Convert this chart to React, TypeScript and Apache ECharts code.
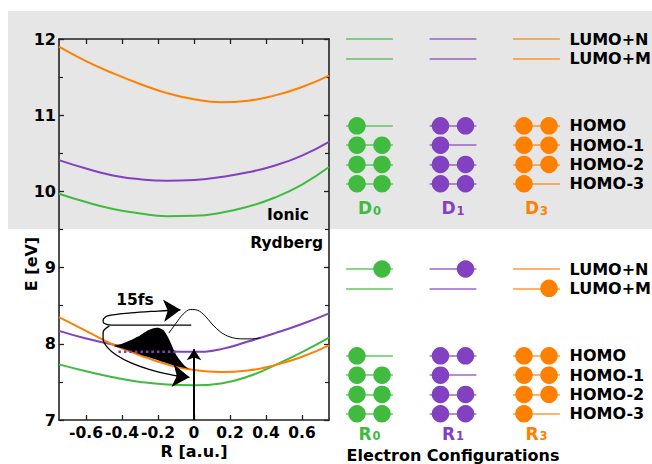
import React, { useEffect, useRef } from 'react';
import * as echarts from 'echarts';

// ---------- data: potential energy curves ----------
const rGrid = [-0.75, -0.6, -0.45, -0.3, -0.15, 0, 0.15, 0.3, 0.45, 0.6, 0.75];
const ionicD0 = [9.97, 9.86, 9.77, 9.71, 9.675, 9.68, 9.72, 9.8, 9.92, 10.09, 10.32];
const ionicD1 = [10.41, 10.3, 10.21, 10.16, 10.14, 10.15, 10.19, 10.25, 10.34, 10.47, 10.65];
const ionicD3 = [11.9, 11.71, 11.55, 11.41, 11.29, 11.21, 11.17, 11.19, 11.26, 11.37, 11.52];
const rydR0 = [7.73, 7.64, 7.56, 7.5, 7.465, 7.455, 7.48, 7.57, 7.72, 7.89, 8.08];
const rydR1 = [8.17, 8.07, 7.99, 7.93, 7.9, 7.895, 7.93, 8.03, 8.14, 8.26, 8.4];
const rydR3 = [8.35, 8.17, 7.99, 7.85, 7.73, 7.655, 7.63, 7.65, 7.72, 7.83, 7.98];

// wave packet (filled) and its continuation
const packetFill = [
  [-0.445, 7.97], [-0.4, 8.0], [-0.35, 8.05], [-0.3, 8.11], [-0.26, 8.17], [-0.23, 8.2],
  [-0.2, 8.21], [-0.17, 8.18], [-0.145, 8.09], [-0.125, 7.99], [-0.105, 7.88], [-0.08, 7.79],
  [-0.055, 7.72], [-0.03, 7.675], [-0.015, 7.665], [-0.1, 7.71], [-0.2, 7.785], [-0.3, 7.86], [-0.4, 7.94],
];
const packetLine = [
  [-0.14, 8.14], [-0.1, 8.27], [-0.06, 8.39], [-0.02, 8.45], [0.02, 8.44], [0.06, 8.37],
  [0.1, 8.26], [0.15, 8.15], [0.2, 8.09], [0.26, 8.065], [0.32, 8.065], [0.37, 8.08],
];
const dottedLevel = [[-0.42, 7.895], [-0.09, 7.895]];
const loopPath = [
  [-0.015, 8.245], [-0.3, 8.245], [-0.46, 8.245], [-0.5, 8.27], [-0.505, 8.31], [-0.48, 8.365],
  [-0.35, 8.405], [-0.2, 8.43], [-0.12, 8.44],
];
const loopArrow = [[-0.14, 8.438], [-0.075, 8.446]];
const relaxPath = [
  [-0.47, 8.235], [-0.505, 8.15], [-0.505, 8.06], [-0.48, 7.95], [-0.43, 7.85], [-0.35, 7.75],
  [-0.25, 7.665], [-0.15, 7.605], [-0.09, 7.575],
];
const relaxArrow = [[-0.1, 7.578], [-0.025, 7.56]];
const exciteArrow = [[0, 7.0], [0, 7.93]];

const xTickValues = [-0.6, -0.4, -0.2, 0, 0.2, 0.4, 0.6];
const xTickLabels = ['-0.6', '-0.4', '-0.2', '0', '0.2', '0.4', '0.6'];

// ---------- data: electron configurations ----------
const levelNames = ['LUMO+N', 'LUMO+M', 'HOMO', 'HOMO-1', 'HOMO-2', 'HOMO-3'];
const levelPos = [0, 1, 4.5, 5.5, 6.5, 7.5];
const ionicStates = ['D', 'D', 'D'];
const ionicSubs = ['0', '1', '3'];
const rydStates = ['R', 'R', 'R'];
const rydSubs = ['0', '1', '3'];
const occD0 = [[0, 0], [0, 0], [1, 0], [1, 1], [1, 1], [1, 1]];
const occD1 = [[0, 0], [0, 0], [1, 1], [1, 0], [1, 1], [1, 1]];
const occD3 = [[0, 0], [0, 0], [1, 1], [1, 1], [1, 1], [1, 0]];
const occR0 = [[0, 1], [0, 0], [1, 0], [1, 1], [1, 1], [1, 1]];
const occR1 = [[0, 1], [0, 0], [1, 1], [1, 0], [1, 1], [1, 1]];
const occR3 = [[0, 0], [0, 1], [1, 1], [1, 1], [1, 1], [1, 0]];

const GREEN = '#40bb40';
const PURPLE = '#8241c1';
const ORANGE = '#ff8000';
const colColors = [GREEN, PURPLE, ORANGE];
const FONT = 'DejaVu Sans';
const INK = '#000';

function configSeries(panel: number, occs: number[][][], names: string[], subs: string[], labelLevel: number) {
  const ax = 2 + panel;
  const lineData: any[] = [];
  const eData: any[] = [];
  occs.forEach((occ, c) => {
    levelPos.forEach((lv, i) => {
      lineData.push({ coords: [[c - 0.28, lv], [c + 0.28, lv]], lineStyle: { color: colColors[c] } });
      if (occ[i][0]) eData.push({ value: [c - 0.15, lv], itemStyle: { color: colColors[c], opacity: 1 } });
      if (occ[i][1]) eData.push({ value: [c + 0.15, lv], itemStyle: { color: colColors[c], opacity: 1 } });
    });
  });
  return [
    {
      type: 'lines', coordinateSystem: 'cartesian2d', xAxisIndex: ax, yAxisIndex: ax,
      data: lineData, symbol: ['none', 'none'], silent: true,
      lineStyle: { width: 2, opacity: 0.6 }, z: 2,
    },
    {
      type: 'scatter', xAxisIndex: ax, yAxisIndex: ax, data: eData,
      symbolSize: 17.5, z: 3, silent: true, itemStyle: { opacity: 1 },
    },
    {
      type: 'scatter', xAxisIndex: ax, yAxisIndex: ax, silent: true,
      data: levelNames.map((n, i) => ({ value: [2.39, levelPos[i]], name: n })),
      symbolSize: 1, itemStyle: { color: 'rgba(0,0,0,0)', opacity: 1 },
      label: {
        show: true, position: 'right', distance: 0, formatter: '{b}',
        fontFamily: FONT, fontWeight: 'bold', fontSize: 16, color: INK,
      },
    },
    {
      type: 'scatter', xAxisIndex: ax, yAxisIndex: ax, silent: true,
      data: names.map((n, c) => ({ value: [c, labelLevel], name: n + '|' + subs[c] + '|' + c })),
      symbolSize: 1, itemStyle: { color: 'rgba(0,0,0,0)', opacity: 1 },
      label: {
        show: true, position: 'inside',
        formatter: (p: any) => {
          const [n, s, c] = p.name.split('|');
          return `{m${c}|${n}}{s${c}|${s}}`;
        },
        rich: Object.fromEntries(
          [0, 1, 2].flatMap((c) => [
            [`m${c}`, { fontFamily: FONT, fontWeight: 'bold', fontSize: 17, color: colColors[c], verticalAlign: 'bottom', lineHeight: 20 }],
            [`s${c}`, { fontFamily: FONT, fontWeight: 'bold', fontSize: 11.5, color: colColors[c], verticalAlign: 'bottom', lineHeight: 9, padding: [0, 0, 0, 1] }],
          ])
        ),
      },
    },
  ];
}

export default function App() {
  const ref = useRef<HTMLDivElement>(null);
  useEffect(() => {
    if (!ref.current) return;
    const chart = echarts.init(ref.current, null, { renderer: 'svg' });
    const frame = { show: true, onZero: false, lineStyle: { color: '#222', width: 1.6 } };
    const tick = { show: true, inside: true, length: 5, lineStyle: { color: '#222', width: 1.3 } };
    const minor = { show: true, splitNumber: 2, length: 4, lineStyle: { color: '#222', width: 1.2 } };
    const curve = (vals: number[], color: string) => ({
      type: 'line', xAxisIndex: 0, yAxisIndex: 0, smooth: 0.5, showSymbol: false, silent: true,
      data: rGrid.map((r, i) => [r, vals[i]]),
      lineStyle: { width: 2, color }, itemStyle: { color }, z: 2,
    });
    const blackLine = (data: number[][], width: number) => ({
      type: 'line', xAxisIndex: 0, yAxisIndex: 0, smooth: 0.35, showSymbol: false, silent: true,
      data, lineStyle: { width, color: '#000' }, z: 5,
    });
    const fmtX = (v: number) => {
      const i = xTickValues.findIndex((t) => Math.abs(t - v) < 1e-6);
      return i >= 0 ? xTickLabels[i] : '';
    };
    const option: any = {
      animation: false,
      backgroundColor: '#fff',
      grid: [
        { left: 59, top: 39, width: 270, height: 381 },
        { left: 327.75, top: 19.7, width: 292.25, height: 193 },
        { left: 327.75, top: 249.7, width: 292.25, height: 193 },
      ],
      xAxis: [
        {
          gridIndex: 0, type: 'value', min: -0.75, max: 0.75, position: 'bottom',
          axisLine: frame, axisTick: { ...tick, customValues: xTickValues },
          axisLabel: {
            customValues: xTickValues, formatter: fmtX, margin: 5,
            fontFamily: FONT, fontWeight: 'bold', fontSize: 15.5, color: INK,
          },
          splitLine: { show: false },
        },
        {
          gridIndex: 0, type: 'value', min: -0.75, max: 0.75, position: 'top',
          axisLine: frame, axisTick: { ...tick, customValues: xTickValues },
          axisLabel: { show: false }, splitLine: { show: false },
        },
        { gridIndex: 1, type: 'value', min: -0.5, max: 3, show: false },
        { gridIndex: 2, type: 'value', min: -0.5, max: 3, show: false },
      ],
      yAxis: [
        {
          gridIndex: 0, type: 'value', min: 7, max: 12, interval: 1, position: 'left',
          axisLine: frame, axisTick: tick, minorTick: minor,
          axisLabel: { margin: 3, fontFamily: FONT, fontWeight: 'bold', fontSize: 16, color: INK },
          splitLine: { show: false }, minorSplitLine: { show: false },
        },
        {
          gridIndex: 0, type: 'value', min: 7, max: 12, interval: 1, position: 'right',
          axisLine: frame, axisTick: tick, minorTick: minor,
          axisLabel: { show: false }, splitLine: { show: false },
        },
        { gridIndex: 1, type: 'value', min: -1, max: 9, inverse: true, show: false },
        { gridIndex: 2, type: 'value', min: -1, max: 9, inverse: true, show: false },
      ],
      graphic: [
        { type: 'rect', z: -100, silent: true, shape: { x: 8, y: 11, width: 644, height: 218 }, style: { fill: '#e6e6e6' } },
        { type: 'text', x: 31, y: 264, rotation: Math.PI / 2, style: { text: 'E [eV]', fontFamily: FONT, fontWeight: 'bold', fontSize: 16, fill: INK, align: 'center', verticalAlign: 'middle' } },
        { type: 'text', x: 194, y: 451, style: { text: 'R [a.u.]', fontFamily: FONT, fontWeight: 'bold', fontSize: 16, fill: INK, align: 'center', verticalAlign: 'middle' } },
        { type: 'text', x: 453, y: 455, style: { text: 'Electron Configurations', fontFamily: FONT, fontWeight: 'bold', fontSize: 16, fill: INK, align: 'center', verticalAlign: 'middle' } },
        { type: 'text', x: 309, y: 214.5, style: { text: 'Ionic', fontFamily: FONT, fontWeight: 'bold', fontSize: 15.5, fill: INK, align: 'right', verticalAlign: 'middle' } },
        { type: 'text', x: 323, y: 243, style: { text: 'Rydberg', fontFamily: FONT, fontWeight: 'bold', fontSize: 15.5, fill: INK, align: 'right', verticalAlign: 'middle' } },
        { type: 'text', x: 135, y: 299.5, style: { text: '15fs', fontFamily: FONT, fontWeight: 'bold', fontSize: 15.5, fill: INK, align: 'center', verticalAlign: 'middle' } },
      ],
      series: [
        curve(ionicD0, GREEN),
        curve(ionicD1, PURPLE),
        curve(ionicD3, ORANGE),
        curve(rydR0, GREEN),
        curve(rydR1, PURPLE),
        {
          type: 'custom', xAxisIndex: 0, yAxisIndex: 0, data: packetFill, encode: { x: 0, y: 1 }, silent: true, z: 3,
          renderItem: (params: any, api: any) => {
            if (params.dataIndex !== 0) return null;
            const pts = packetFill.map((p) => api.coord(p));
            return { type: 'polygon', shape: { points: pts, smooth: 0.15 }, style: { fill: '#000' } };
          },
        },
        curve(rydR3, ORANGE),
        {
          type: 'line', xAxisIndex: 0, yAxisIndex: 0, showSymbol: false, silent: true, data: dottedLevel,
          lineStyle: { width: 2.5, color: PURPLE, type: [2.5, 3] }, z: 6,
        },
        blackLine(packetLine, 1),
        blackLine(loopPath, 1.3),
        blackLine(relaxPath, 1.3),
        {
          type: 'lines', coordinateSystem: 'cartesian2d', xAxisIndex: 0, yAxisIndex: 0, silent: true,
          symbol: ['none', 'arrow'], symbolSize: [10, 17],
          lineStyle: { color: '#000', width: 1.3, opacity: 1 }, z: 6,
          data: [{ coords: loopArrow }, { coords: relaxArrow }],
        },
        {
          type: 'lines', coordinateSystem: 'cartesian2d', xAxisIndex: 0, yAxisIndex: 0, silent: true,
          symbol: ['none', 'arrow'], symbolSize: [10, 11],
          lineStyle: { color: '#000', width: 2, opacity: 1 }, z: 6,
          data: [{ coords: exciteArrow }],
        },
        ...configSeries(0, [occD0, occD1, occD3], ionicStates, ionicSubs, 8.7),
        ...configSeries(1, [occR0, occR1, occR3], rydStates, rydSubs, 8.47),
      ],
    };
    chart.setOption(option);
    return () => chart.dispose();
  }, []);
  return <div ref={ref} style={{ position: 'absolute', left: 0, top: 0, width: 652, height: 464 }} />;
}
